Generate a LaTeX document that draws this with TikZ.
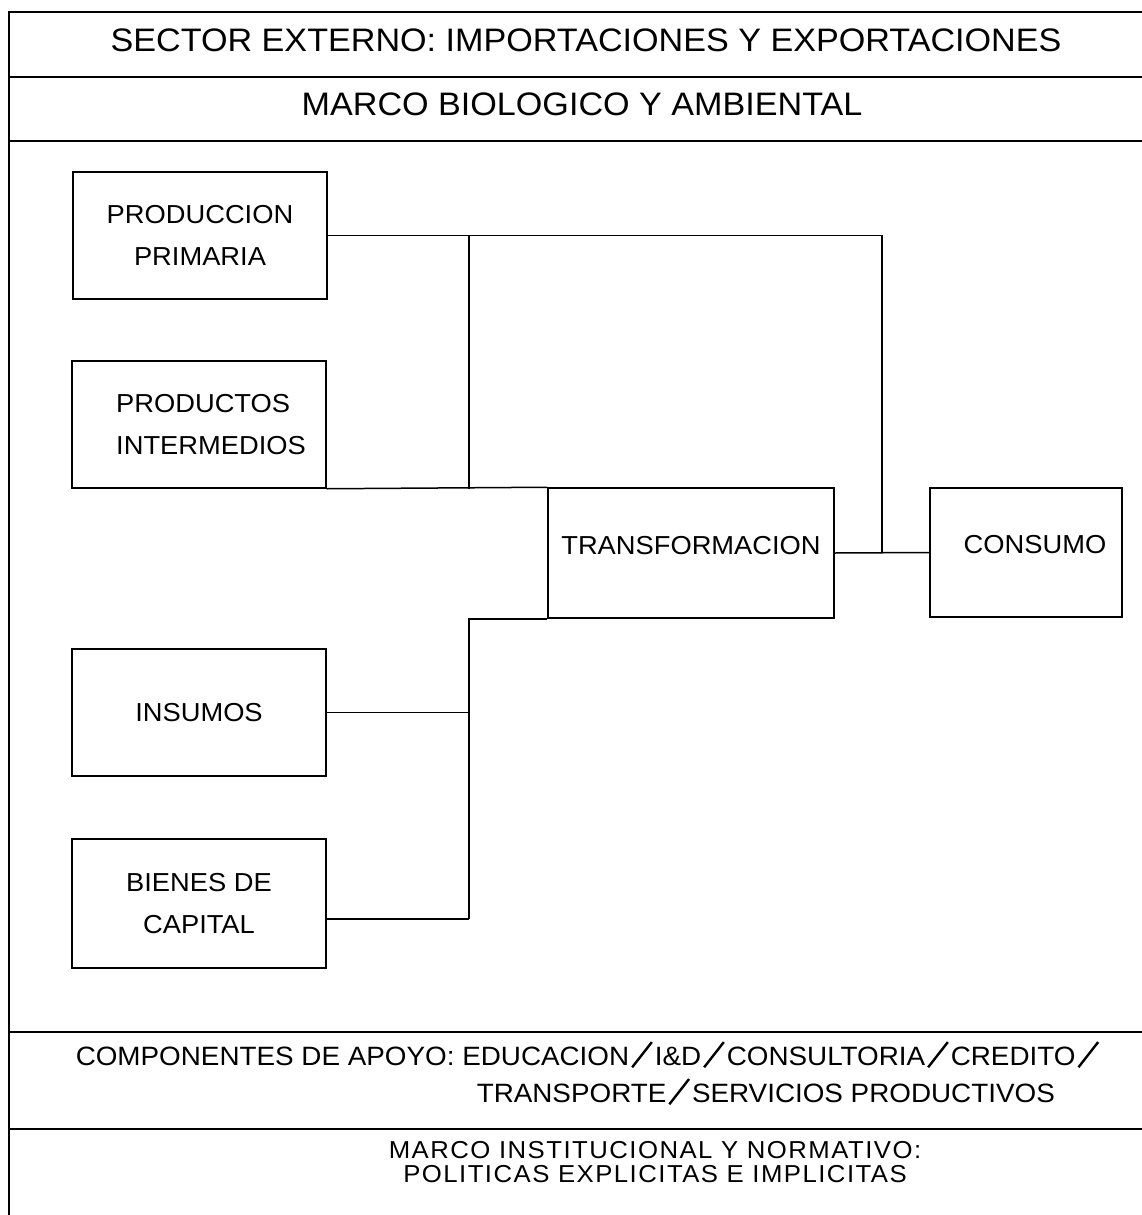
\documentclass[tikz,border=0pt]{standalone}
\usepackage{fontspec}
\setmainfont{Liberation Sans}[FakeStretch=1.05]
\newcommand{\barra}{\kern2pt\raisebox{-3pt}{\rotatebox{52}{\rule{32pt}{2.4pt}}}\kern2pt}

\begin{document}
\begin{tikzpicture}[x=1pt, y=-1pt, line width=1.5pt,
    bloque/.style={rectangle, draw, inner sep=0pt, minimum width=254pt, minimum height=127pt, align=center, font=\fontsize{26}{42}\selectfont},
    rotulo/.style={inner sep=0pt, anchor=base},
    marco/.style={line width=1.8pt}]

        \useasboundingbox (0,0) rectangle (1142,1215);

        % marco exterior y franjas
        \draw[marco] (1142,12) -- (9,12) -- (9,1215);
        \foreach \y in {77,141,1032,1129}
            \draw[marco] (9,\y) -- (1142,\y);

        \node[rotulo, font=\fontsize{32.5}{39}\selectfont] at (586,52) (externo) {SECTOR EXTERNO: IMPORTACIONES Y EXPORTACIONES};
        \node[rotulo, font=\fontsize{32.5}{39}\selectfont] at (582,115) (biologico) {MARCO BIOLOGICO Y AMBIENTAL};

        % bloques
        \node[bloque] at (200,235.5) (primaria) {PRODUCCION\\PRIMARIA};
        \node[bloque, align=left] at (199,424.5) (intermedios) {\hspace*{24pt}PRODUCTOS\\\hspace*{24pt}INTERMEDIOS};
        \node[bloque, minimum width=286pt, minimum height=130pt, text depth=16pt] at (691,553) (transf) {TRANSFORMACION};
        \node[bloque, minimum width=192pt, minimum height=129pt, text depth=16pt] at (1026,552.5) (consumo) {\hspace*{18pt}CONSUMO};
        \node[bloque] at (199,712.5) (insumos) {INSUMOS};
        \node[bloque, minimum height=129pt] at (199,903.5) (bienes) {BIENES DE\\CAPITAL};

        \coordinate (jarriba) at (469,235.5);
        \coordinate (jconsumo) at (882,553);
        \coordinate (jabajo) at (469,919);

        \draw (primaria.east) -| (jconsumo);
        \draw (jarriba) -- (jarriba |- intermedios.south);
        \draw (intermedios.south east) -- (transf.north west);
        \draw (transf.east) -- (consumo.west);
        \draw (transf.south west) -| (jabajo);
        \draw (insumos.east) -- (insumos.east -| jabajo);
        \draw (jabajo) -- (jabajo -| bienes.east);

        % franjas inferiores
        \node[rotulo, anchor=base west, font=\fontsize{26.5}{35}\selectfont] at (75,1065) (apoyo) {COMPONENTES DE APOYO: EDUCACION\barra I\&D\barra CONSULTORIA\barra CREDITO\barra};
        \node[rotulo, anchor=base west, font=\fontsize{26.5}{35}\selectfont] at (476,1102) (apoyob) {TRANSPORTE\barra SERVICIOS PRODUCTIVOS};
        \node[inner sep=0pt, align=center, font=\fontsize{24.5}{24}\selectfont\addfontfeature{LetterSpace=6}] at (655,1162.5) (institucional) {MARCO INSTITUCIONAL Y NORMATIVO:\\POLITICAS EXPLICITAS E IMPLICITAS};
\end{tikzpicture}
\end{document}
